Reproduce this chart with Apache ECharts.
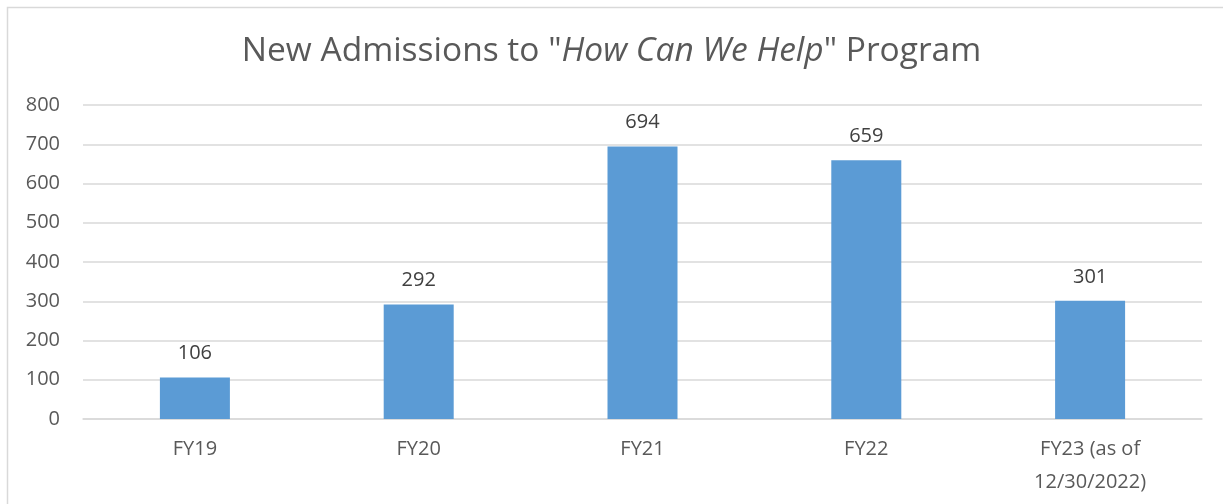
<!DOCTYPE html>
<html>
<head>
<meta charset="utf-8">
<script src="https://cdn.jsdelivr.net/npm/echarts@6/dist/echarts.min.js"></script>
<style>
html, body { margin: 0; padding: 0; background: #fff; }
#chart { width: 1223px; height: 504px; }
</style>
</head>
<body>
<div id="chart"></div>
<script>
var grey = '#595959';
var lineGrey = '#d9d9d9';

// 数据
var categories = ['FY19', 'FY20', 'FY21', 'FY22', 'FY23 (as of\n12/30/2022)'];
var admissions = [106, 292, 694, 659, 301];

var option = {
	animation: false,
	textStyle: {
		fontFamily: 'Open Sans'
	},
	title: {
		left: 'center',
		top: 29,
		text: '{n|New Admissions to "}{i|How Can We Help}{n|" Program}',
		textStyle: {
			rich: {
				n: { fontSize: 33.5, color: grey, fontFamily: 'Open Sans', fontWeight: 'normal' },
				i: { fontSize: 33.5, color: grey, fontFamily: 'Open Sans', fontWeight: 'normal', fontStyle: 'italic' }
			}
		}
	},
	graphic: [{
		type: 'rect',
		shape: { x: 7.5, y: 7.5, width: 1300, height: 600 },
		style: { fill: 'none', stroke: lineGrey, lineWidth: 1.5 },
		silent: true
	}],
	grid: {
		left: 83,
		right: 21,
		top: 105,
		bottom: 85
	},
	xAxis: [{
		type: 'category',
		data: categories,
		axisLine: {
			lineStyle: { color: lineGrey, width: 1.5 }
		},
		axisTick: { show: false },
		axisLabel: {
			color: grey,
			fontSize: 20,
			margin: 14,
			lineHeight: 33
		}
	}],
	yAxis: [{
		type: 'value',
		min: 0,
		max: 800,
		interval: 100,
		axisLine: { show: false },
		axisTick: { show: false },
		axisLabel: {
			color: grey,
			fontSize: 20,
			margin: 23
		},
		splitLine: {
			lineStyle: { color: lineGrey, width: 1.5 }
		}
	}],
	series: [{
		name: 'New Admissions',
		type: 'bar',
		barWidth: 70,
		data: admissions,
		itemStyle: {
			color: '#5b9bd5'
		},
		label: {
			show: true,
			position: 'top',
			distance: 14,
			color: '#404040',
			fontSize: 20
		}
	}]
};

var chart = echarts.init(document.getElementById('chart'));
chart.setOption(option);
</script>
</body>
</html>
